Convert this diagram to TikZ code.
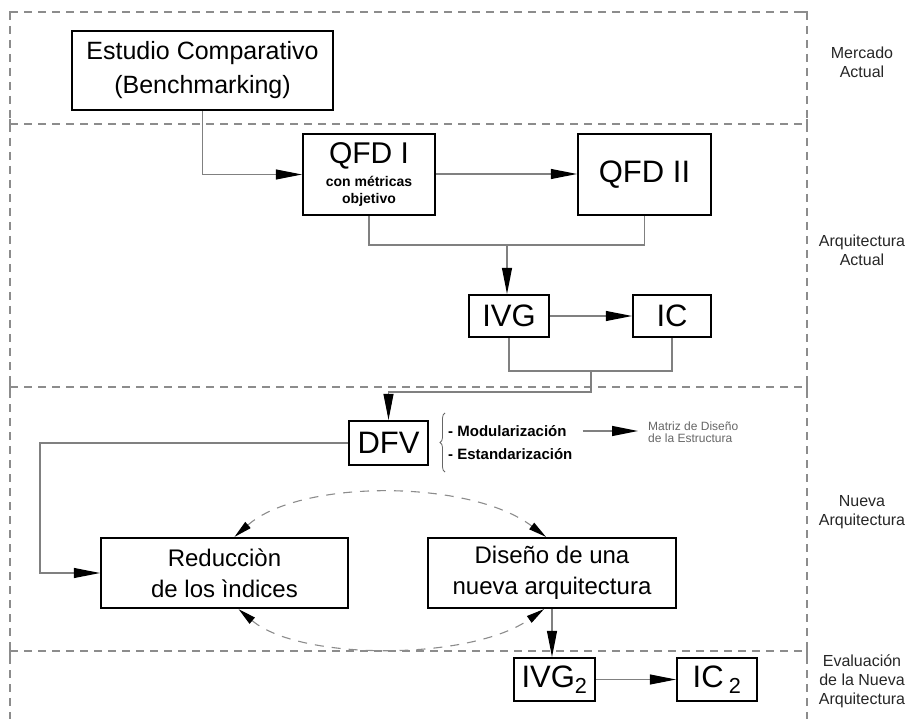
\documentclass[tikz,border=0pt]{standalone}
\usepackage{fontspec}
\setmainfont{Liberation Sans}
\usetikzlibrary{arrows.meta,decorations.pathreplacing}
\newcommand\fsz[2]{\fontsize{#1}{#2}\selectfont}
\begin{document}
\begin{tikzpicture}[x=1pt,y=-1pt,
  box/.style={draw=black, line width=2.2pt, inner sep=0pt, align=center, fill=white},
  conn/.style={draw=black!50, line width=1.1pt},
  arr/.style={conn, -{Triangle[length=26pt,width=10pt,color=black]}},
  frame/.style={draw=black!45, line width=1.1pt, dash pattern=on 8pt off 6pt},
  tick/.style={draw=black!45, line width=1.1pt},
  dcurve/.style={draw=black!45, line width=1.1pt, dash pattern=on 9pt off 8pt,
     {Triangle[length=18pt,width=8pt,color=black]}-{Triangle[length=18pt,width=8pt,color=black]}},
  side/.style={align=center, font=\fsz{16}{19}, text=black!85},
  big/.style={font=\fsz{31}{33}},
  mid/.style={font=\fsz{24}{31}},
]
\useasboundingbox (0,0) rectangle (913,719);
% frame
\draw[frame] (10,12) -- (807,12);
\draw[frame] (10,124) -- (807,124);
\draw[frame] (10,387) -- (807,387);
\draw[frame] (10,651) -- (807,651);
\draw[frame] (10,12) -- (10,719);
\draw[frame] (807,12) -- (807,719);
\foreach \yy in {124,387,651} {
  \draw[tick] (10,\yy-5) -- (10,\yy+5);
  \draw[tick] (807,\yy-5) -- (807,\yy+5);
}
\draw[tick] (10,20) -- (10,12) -- (18,12);
\draw[tick] (799,12) -- (807,12) -- (807,20);

% side labels
\node[side] (lab1) at (862,62) {Mercado\\Actual};
\node[side] (lab2) at (862,250) {Arquitectura\\Actual};
\node[side] (lab3) at (862,512) {Nueva\\Arquitectura};
\node[side] (lab4) at (862,681) {Evaluación\\de la Nueva\\Arquitectura};

% boxes
\node[box, minimum width=261pt, minimum height=79pt, font=\fsz{25}{34}] (est) at (202.5,70.5) {Estudio Comparativo\\(Benchmarking)};
\node[box, minimum width=132pt, minimum height=81pt, font=\fsz{14}{17}\bfseries] (q1) at (369,174.5)
  {\fsz{30}{32}\mdseries QFD I\\[6pt]con métricas\\objetivo};
\node[box, big, minimum width=133pt, minimum height=81pt] (q2) at (644.5,174.5) {QFD II};
\node[box, big, minimum width=80pt, minimum height=42pt] (ivg) at (509,316) {IVG};
\node[box, big, minimum width=78pt, minimum height=42pt] (ic) at (672,316) {IC};
\node[box, big, minimum width=79pt, minimum height=44pt] (dfv) at (388.5,443) {DFV};
\node[box, mid, minimum width=247pt, minimum height=70pt] (red) at (224.5,573) {Reducciòn\\de los ìndices};
\node[box, mid, minimum width=248pt, minimum height=70pt] (dis) at (552,573) {Diseño de una\\nueva arquitectura};
\node[box, big, minimum width=81pt, minimum height=43pt] (ivg2) at (554.5,679.5) {IVG\textsubscript{2}};
\node[box, big, minimum width=80pt, minimum height=43pt] (ic2) at (717,679.5) {IC\,\textsubscript{2}};

% DFV annotations
\node[anchor=west, inner sep=0pt, font=\fsz{15}{17}\bfseries] (mod) at (448,431) {- Modularización};
\node[anchor=west, inner sep=0pt, font=\fsz{15}{17}\bfseries] (est2) at (448,454) {- Estandarización};
\node[anchor=west, inner sep=0pt, align=left, font=\fsz{12}{12}, text=black!60] (mat) at (648,432) {Matriz de Diseño\\de la Estructura};
\draw[decorate, decoration={brace, amplitude=5pt}, draw=black!60, line width=0.8pt] (445,472) -- (445,413);
\draw[arr] ([xshift=16pt]mod.east) -- ([xshift=-10pt]mat.west |- mod.east);

% connectors
\draw[arr] (est.south) |- (q1.west);
\draw[arr] (q1.east |- 0,174) -- (q2.west |- 0,174);
\coordinate (j1) at (507,245);
\draw[conn] (q1.south) |- (j1) -| (q2.south);
\draw[arr] (j1) -- (j1 |- ivg.north);
\draw[arr] (ivg) -- (ic);
\coordinate (j2) at (591,371);
\coordinate (k) at (591,392);
\draw[conn] (ivg.south) |- (j2) -| (ic.south);
\draw[arr] (j2) -- (k) -| (dfv.north);
\coordinate (l) at (40,443);
\draw[arr] (dfv.west) -- (l) |- (red.west);
\draw[arr] (dis.south) -- (dis.south |- ivg2.north);
\draw[arr] (ivg2) -- (ic2);

% dashed curves
\draw[dcurve] ([xshift=10pt]red.north) .. controls (300,479) and (470,479) .. ([xshift=-6pt]dis.north);
\draw[dcurve] ([xshift=14pt]red.south) .. controls (300,661) and (470,661) .. ([xshift=-8pt]dis.south);
\end{tikzpicture}
\end{document}
